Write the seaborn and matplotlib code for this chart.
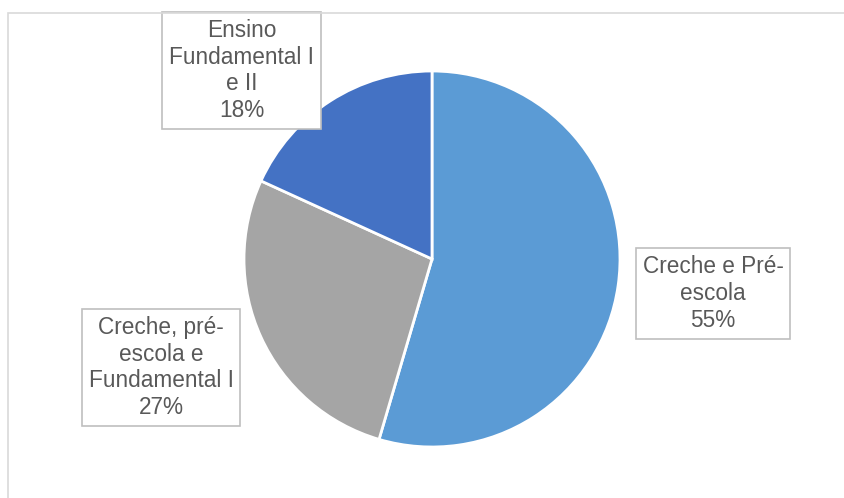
import matplotlib
matplotlib.use("Agg")
import matplotlib.pyplot as plt
import seaborn as sns
from matplotlib.patches import Rectangle

sns.set_theme(style="white")
plt.rcParams['font.family'] = ['Liberation Sans', 'DejaVu Sans']

categories = ["Creche e Pré-\nescola", "Creche, pré-\nescola e\nFundamental I", "Ensino\nFundamental I\ne II"]
counts = [6, 3, 2]
colors = ["#5B9BD5", "#A5A5A5", "#4472C4"]

W, H = 844, 498
fig = plt.figure(figsize=(W / 100, H / 100), dpi=100)
ax = fig.add_axes([0, 0, 1, 1])

# chart border (only top and left visible in reference)
fig.patches.append(Rectangle((8 / W, -0.1), 1.2, (H - 13) / H + 0.1,
                             transform=fig.transFigure, fill=False,
                             edgecolor="#D9D9D9", linewidth=1.2))

cx, cy, r = 432, 259, 188
# y axis is inverted below, so start at -90 and go counterclockwise in data
# space to get a visually clockwise pie starting at 12 o'clock
wedges, _ = ax.pie(counts, colors=colors, startangle=-90, counterclock=True,
                   center=(cx, cy), radius=r, frame=True,
                   wedgeprops=dict(edgecolor="white", linewidth=2))
ax.set_xlim(0, W)
ax.set_ylim(H, 0)
ax.set_aspect('equal')
ax.axis('off')

total = sum(counts)
label_pos = [(713, 293.5), (161, 367.5), (241.5, 70.5)]
for (x, y), cat, c in zip(label_pos, categories, counts):
    pct = f"{round(100 * c / total)}%"
    ax.text(x, y, f"{cat}\n{pct}", ha="center", va="center", fontsize=16.3,
            color="#595959", linespacing=1.22,
            bbox=dict(boxstyle="square,pad=0.3", facecolor="white",
                      edgecolor="#BFBFBF", linewidth=1.2))

fig.savefig("out.png", dpi=100)
